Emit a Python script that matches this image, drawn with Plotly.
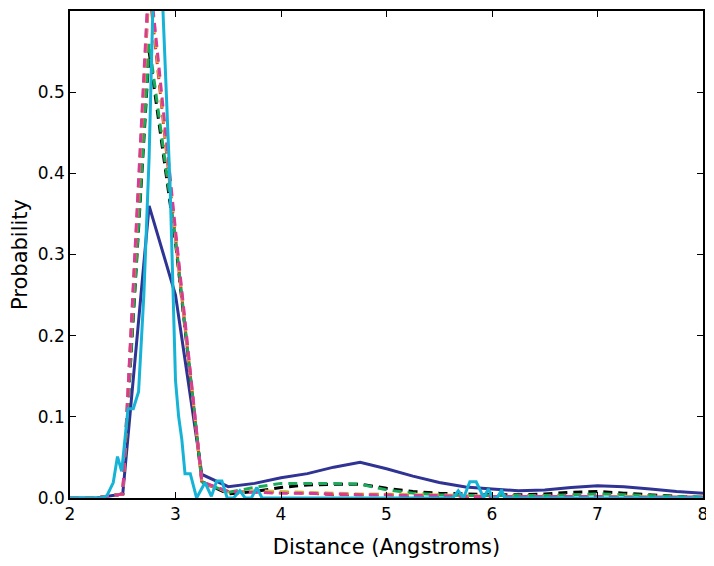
import plotly.graph_objects as go

# Coarse-bin x positions (Angstroms)
x_coarse = [2.0, 2.25, 2.5, 2.75, 3.0, 3.25, 3.5, 3.75, 4.0, 4.25, 4.5, 4.75, 5.0,
            5.25, 5.5, 5.75, 6.0, 6.25, 6.5, 6.75, 7.0, 7.25, 7.5, 7.75, 8.0]

navy_y = [0.0, 0.0, 0.005, 0.36, 0.25, 0.029, 0.014, 0.018, 0.025, 0.030, 0.038, 0.044, 0.036,
          0.027, 0.019, 0.0135, 0.011, 0.009, 0.010, 0.013, 0.015, 0.014, 0.011, 0.008, 0.006]
black_y = [0.0, 0.0, 0.005, 0.55, 0.315, 0.02, 0.005, 0.008, 0.013, 0.016, 0.017, 0.017, 0.012,
           0.008, 0.006, 0.005, 0.004, 0.004, 0.005, 0.007, 0.008, 0.006, 0.004, 0.002, 0.001]
green_y = [0.0, 0.0, 0.005, 0.56, 0.32, 0.02, 0.007, 0.013, 0.018, 0.018, 0.018, 0.017, 0.010,
           0.006, 0.004, 0.003, 0.003, 0.003, 0.003, 0.004, 0.005, 0.004, 0.003, 0.002, 0.001]
red_y = [0.0, 0.0, 0.005, 0.63, 0.32, 0.018, 0.008, 0.008, 0.007, 0.006, 0.004, 0.004, 0.004,
         0.003, 0.003, 0.002, 0.002, 0.002, 0.002, 0.002, 0.002, 0.002, 0.001, 0.001, 0.001]
yellow_y = [0.0, 0.0, 0.005, 0.64, 0.325, 0.02, 0.007, 0.009, 0.008, 0.007, 0.006, 0.005, 0.005,
            0.004, 0.004, 0.003, 0.002, 0.002, 0.002, 0.002, 0.002, 0.002, 0.001, 0.001, 0.001]
magenta_y = [0.0, 0.0, 0.005, 0.65, 0.33, 0.02, 0.008, 0.007, 0.006, 0.006, 0.005, 0.004, 0.004,
             0.003, 0.003, 0.002, 0.002, 0.002, 0.002, 0.002, 0.002, 0.001, 0.001, 0.001, 0.001]

# Fine-bin series (cyan)
cyan_x = [2.0, 2.3, 2.35, 2.41, 2.45, 2.49, 2.55, 2.6, 2.65, 2.7, 2.75, 2.8, 2.85, 2.9, 2.95,
          3.0, 3.03, 3.06, 3.09, 3.14, 3.2, 3.28, 3.34, 3.39, 3.44, 3.49, 3.55, 3.61, 3.66,
          3.72, 3.77, 3.82, 5.63, 5.68, 5.73, 5.79, 5.85, 5.89, 5.92, 5.965, 6.01, 6.05,
          6.09, 6.12, 8.0]
cyan_y = [0.0, 0.0, 0.003, 0.019, 0.051, 0.033, 0.11, 0.11, 0.131, 0.25, 0.42, 0.68, 0.70, 0.53,
          0.38, 0.145, 0.10, 0.072, 0.03, 0.03, 0.0, 0.019, 0.002, 0.021, 0.021, 0.0, 0.0,
          0.009, 0.0, 0.0, 0.013, 0.0, 0.0, 0.009, 0.0, 0.02, 0.02, 0.009, 0.0, 0.011, 0.0,
          0.0, 0.01, 0.0, 0.0]

x_ticks = [2, 3, 4, 5, 6, 7, 8]
y_ticks = [0.0, 0.1, 0.2, 0.3, 0.4, 0.5]
y_tick_labels = ["0.0", "0.1", "0.2", "0.3", "0.4", "0.5"]

fig = go.Figure()
fig.add_trace(go.Scatter(x=x_coarse, y=navy_y, mode="lines",
                         line=dict(color="#2f3393", width=3)))
dash = "9px,6px"
for yv, col in [(black_y, "#000000"), (green_y, "#1aab5a"), (red_y, "#e8333a"),
                (yellow_y, "#cfc53a"), (magenta_y, "#d63c94")]:
    fig.add_trace(go.Scatter(x=x_coarse, y=yv, mode="lines",
                             line=dict(color=col, width=3, dash=dash)))
fig.add_trace(go.Scatter(x=cyan_x, y=cyan_y, mode="lines",
                         line=dict(color="#17b3d6", width=3)))

axis_common = dict(showgrid=False, zeroline=False, showline=True, linecolor="black",
                   linewidth=1.5, mirror="allticks", ticks="inside", ticklen=6,
                   tickcolor="black", tickfont=dict(size=17, color="black",
                                                    family="DejaVu Sans"))
fig.update_xaxes(range=[2, 8], tickvals=x_ticks,
                 title=dict(text="Distance (Angstroms)", font=dict(size=21, family="DejaVu Sans",
                                                                   color="black"), standoff=16),
                 **axis_common)
fig.update_yaxes(range=[0, 0.6], tickvals=y_ticks, ticktext=y_tick_labels,
                 title=dict(text="Probability", font=dict(size=21, family="DejaVu Sans",
                                                          color="black"), standoff=10),
                 **axis_common)
# page body adds an 8px offset; margins compensate so the plot area sits at x 70-703, y 8-497
fig.update_layout(width=706, height=558, showlegend=False,
                  plot_bgcolor="white", paper_bgcolor="white",
                  margin=dict(l=62, r=11, t=1, b=68),
                  font=dict(family="DejaVu Sans"))
fig.write_html("out.html")
